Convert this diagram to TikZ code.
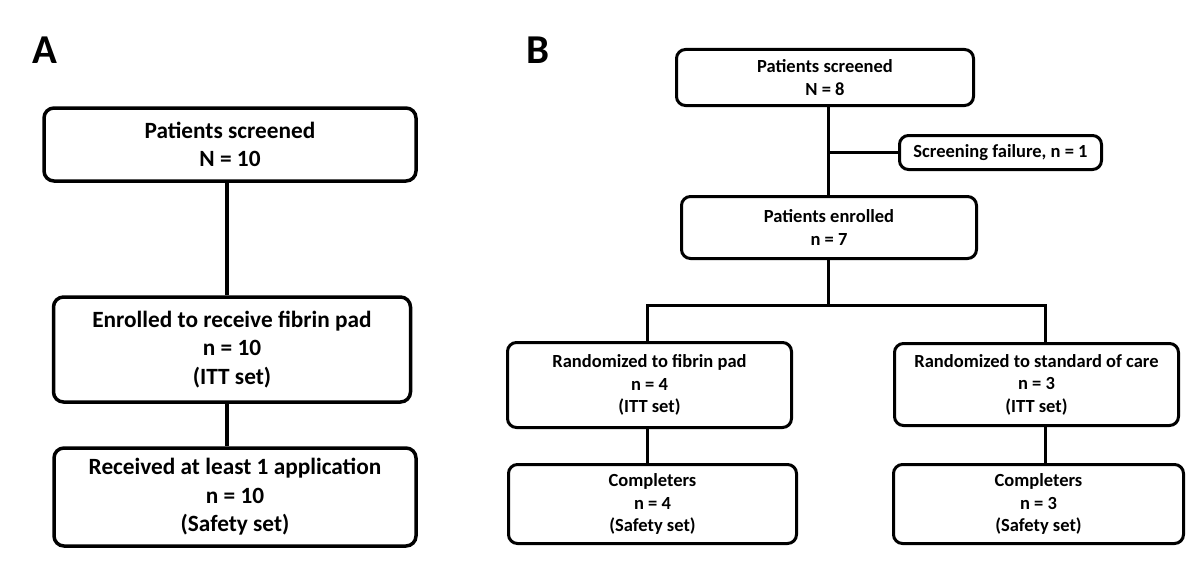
\documentclass[tikz,border=0pt]{standalone}
\usepackage{fontspec}
\setmainfont{Carlito}
\begin{document}
\begin{tikzpicture}[x=1pt,y=-1pt,
  boxa/.style={draw=black, line width=3.5pt, rounded corners=10pt, inner sep=0pt, align=center,
    font=\bfseries\fontsize{23.3}{28.5}\selectfont},
  boxb/.style={draw=black, line width=3pt, rounded corners=9pt, inner sep=0pt, align=center,
    font=\bfseries\fontsize{18.5}{22.5}\selectfont},
  conna/.style={line width=3.5pt},
  connb/.style={line width=3pt},
  panel/.style={font=\bfseries\fontsize{41}{41}\selectfont, inner sep=0pt}
]
\useasboundingbox (0,0) rectangle (1200,586);
% Panel A
\node[panel] (la) at (45,50) {A};
\node[boxa, minimum width=372pt, minimum height=73pt] (a1) at (230,144.5) {Patients screened\\N = 10};
\node[boxa, minimum width=357pt, minimum height=105pt] (a2) at (232,349.5) {Enrolled to receive fibrin pad\\n = 10\\(ITT set)};
\node[boxa, minimum width=362pt, minimum height=98pt] (a3) at (235,497) {Received at least 1 application\\n = 10\\(Safety set)};
\coordinate (ax) at (227,0);
\draw[conna] (ax |- a1.south) -- (ax |- a2.north);
\draw[conna] (ax |- a2.south) -- (ax |- a3.north);
% Panel B
\node[panel] (lb) at (538,50) {B};
\node[boxb, minimum width=297pt, minimum height=56pt] (b1) at (825,77.5) {Patients screened\\N = 8};
\node[boxb, minimum width=202pt, minimum height=34pt] (scr) at (1000.5,152.5) {Screening failure, n = 1};
\node[boxb, minimum width=295pt, minimum height=62pt] (b2) at (829,227.5) {Patients enrolled\\n = 7};
\node[boxb, minimum width=284pt, minimum height=85pt] (bl) at (649.5,385) {Randomized to fibrin pad\\n = 4\\(ITT set)};
\node[boxb, minimum width=284pt, minimum height=82pt] (br) at (1036.5,384.5) {Randomized to standard of care\\n = 3\\(ITT set)};
\node[boxb, minimum width=288pt, minimum height=79pt] (cl) at (652.5,504) {Completers\\n = 4\\(Safety set)};
\node[boxb, minimum width=290pt, minimum height=79pt] (cr) at (1038.5,504) {Completers\\n = 3\\(Safety set)};
\coordinate (bx) at (828,0);
\coordinate (jm) at (828,305);
\coordinate (jl) at (647,305);
\coordinate (jr) at (1045,305);
\draw[connb] (bx |- b1.south) -- (bx |- b2.north);
\draw[connb] (scr.west) -- (scr.west -| bx);
\draw[connb] (bx |- b2.south) -- (jm);
\draw[connb] (jl |- bl.north) -- (jl) -- (jr) -- (jr |- br.north);
\draw[connb] (jl |- bl.south) -- (jl |- cl.north);
\draw[connb] (jr |- br.south) -- (jr |- cr.north);
\end{tikzpicture}
\end{document}
